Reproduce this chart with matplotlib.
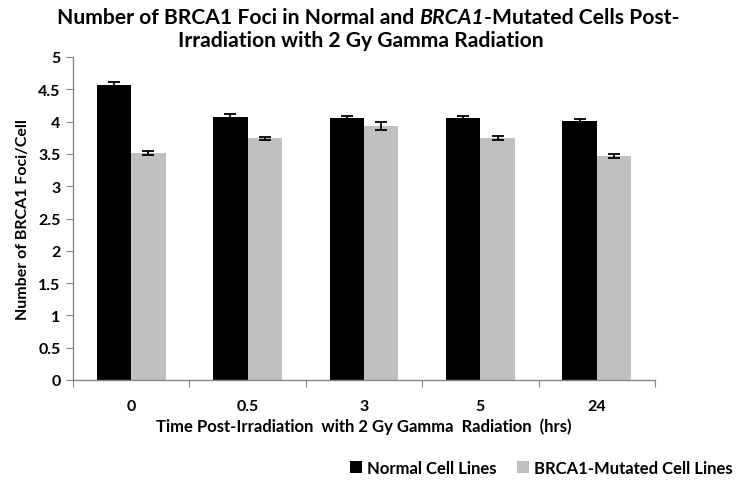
import matplotlib
matplotlib.use("Agg")
import matplotlib.pyplot as plt
import numpy as np

categories = ["0", "0.5", "3", "5", "24"]
normal_vals = [4.57, 4.07, 4.05, 4.05, 4.01]
normal_err = [0.04, 0.04, 0.04, 0.04, 0.03]
mutated_vals = [3.52, 3.74, 3.93, 3.74, 3.47]
mutated_err = [0.03, 0.02, 0.06, 0.03, 0.03]
series_names = ["Normal Cell Lines", "BRCA1-Mutated Cell Lines"]
yticks = [0, 0.5, 1, 1.5, 2, 2.5, 3, 3.5, 4, 4.5, 5]

plt.rcParams['font.family'] = ['Lato', 'DejaVu Sans']
W, H = 738, 481
fig = plt.figure(figsize=(W / 100, H / 100), dpi=100)
ax = fig.add_axes([73 / W, 1 - 381 / H, (655 - 73) / W, (381 - 58) / H])

x = np.arange(len(categories))
bw = 0.295
ekw = dict(ecolor='black', elinewidth=1.3, capsize=4, capthick=1.3)
ax.bar(x - bw / 2, normal_vals, bw, yerr=normal_err, color='black',
       error_kw=ekw, label=series_names[0], zorder=2)
ax.bar(x + bw / 2, mutated_vals, bw, yerr=mutated_err, color='#c0c0c0',
       error_kw=ekw, label=series_names[1], zorder=2)

ax.set_xlim(-0.5, len(categories) - 0.5)
ax.set_ylim(0, 5)
ax.set_yticks(yticks)
ax.set_yticklabels([f"{t:g}" for t in yticks], fontsize=11.5, fontweight='bold')
ax.set_xticks(np.arange(-0.5, len(categories), 1.0))
ax.set_xticklabels([])
ax.set_xticks(x, minor=True)
ax.set_xticklabels(categories, minor=True, fontsize=11.5, fontweight='bold')
ax.tick_params(axis='x', which='minor', length=0, pad=14)
ax.tick_params(axis='x', which='major', length=5, color='#888888', direction='out')
ax.tick_params(axis='y', length=5, color='#888888', direction='out', pad=4)
for s in ['top', 'right']:
    ax.spines[s].set_visible(False)
for s in ['left', 'bottom']:
    ax.spines[s].set_color('#888888')
    ax.spines[s].set_linewidth(1.0)

ax.set_xlabel("Time Post-Irradiation  with 2 Gy Gamma  Radiation  (hrs)",
              fontsize=12, fontweight='bold', labelpad=3)
ax.set_ylabel("Number of BRCA1 Foci/Cell", fontsize=11.5, fontweight='bold', labelpad=6)

# Title with italic part
fig.canvas.draw()
r = fig.canvas.get_renderer()

def rich_line(parts, cx, y, size):
    texts = []
    for s, st in parts:
        t = fig.text(0, y, s, fontsize=size, fontweight='bold', fontstyle=st,
                     ha='left', va='baseline', transform=None)
        texts.append(t)
    widths = [t.get_window_extent(r).width for t in texts]
    total = sum(widths)
    xpos = cx - total / 2
    for t, w in zip(texts, widths):
        t.set_position((xpos, y))
        xpos += w

rich_line([("Number of BRCA1 Foci in Normal and ", 'normal'), ("BRCA1", 'italic'),
           ("-Mutated Cells Post-", 'normal')], 368, H - 24, 15.2)
rich_line([("Irradiation with 2 Gy Gamma Radiation", 'normal')], 361, H - 47, 15.2)

leg = fig.legend(loc='center right', bbox_to_anchor=(733 / W, 1 - 469 / H), ncol=2, frameon=False,
                 prop=dict(weight='bold', size=12), handlelength=0.75, handleheight=0.75,
                 handletextpad=0.3, columnspacing=1.2, borderpad=0, borderaxespad=0)

fig.savefig("out.png", dpi=100)
